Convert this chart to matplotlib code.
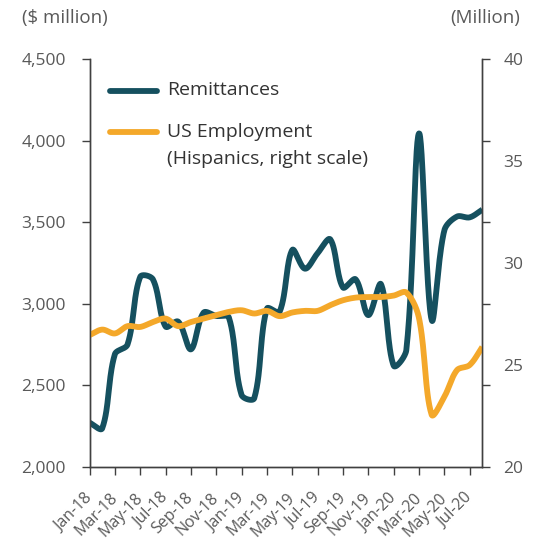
import numpy as np
import pandas as pd
import matplotlib
matplotlib.use('Agg')
import matplotlib.pyplot as plt
from matplotlib.transforms import ScaledTranslation

plt.rcParams['font.family'] = ['Open Sans', 'DejaVu Sans']

# monthly data, Jan-18 .. Aug-20
months = list(pd.date_range('2018-01-01', periods=32, freq='MS').strftime('%b-%y'))
remittances = [2270, 2235, 2690, 2750, 3165, 3150, 2860, 2890, 2720, 2945,
               2925, 2915, 2440, 2420, 2970, 2950, 3330, 3215, 3310, 3395,
               3100, 3150, 2930, 3120, 2620, 2715, 4045, 2900, 3450, 3535,
               3530, 3577]
us_employment = [26.46, 26.73, 26.54, 26.90, 26.86, 27.10, 27.27, 26.90, 27.10, 27.27,
                 27.44, 27.60, 27.68, 27.52, 27.65, 27.39, 27.57, 27.65, 27.65, 27.93,
                 28.17, 28.30, 28.33, 28.33, 28.40, 28.55, 27.30, 22.55, 23.43, 24.74,
                 24.99, 25.88]

teal = '#15505f'
orange = '#f4a82a'
grey_txt = '#595959'
axis_col = '#404040'


def smooth(vals, ys, xs=12.67, n=30):
    # smoothed line like the spreadsheet one: bezier through the points,
    # tangents weighted by chord length (in pixel units)
    P = np.column_stack([np.arange(len(vals)) * xs, np.asarray(vals, float) * ys])
    Q = np.vstack([P[:1], P, P[-1:]])
    t = np.linspace(0, 1, n, endpoint=False)[:, None]
    out = []
    for i in range(len(P) - 1):
        p0, p1, p2, p3 = Q[i], Q[i + 1], Q[i + 2], Q[i + 3]
        d01 = np.hypot(*(p1 - p0))
        d12 = np.hypot(*(p2 - p1))
        d23 = np.hypot(*(p3 - p2))
        f1 = d12 / (d01 + d12) if d01 + d12 > 0 else 0.5
        f2 = d12 / (d12 + d23) if d12 + d23 > 0 else 0.5
        c1 = p1 + (p2 - p0) * f1 / 3
        c2 = p2 - (p3 - p1) * f2 / 3
        out.append((1 - t)**3 * p1 + 3 * (1 - t)**2 * t * c1 + 3 * (1 - t) * t**2 * c2 + t**3 * p2)
    out.append(P[-1:])
    out = np.vstack(out)
    return out[:, 0] / xs, out[:, 1] / ys


fig = plt.figure(figsize=(5.37, 5.45), dpi=100)
ax = fig.add_axes([0.1667, 0.1437, 0.7315, 0.7475])
ax2 = ax.twinx()

x1, y1 = smooth(remittances, 407.4 / 2500)
ax.plot(x1, y1, color=teal, lw=4.2, solid_capstyle='butt')
x2, y2 = smooth(us_employment, 407.4 / 20)
ax2.plot(x2, y2, color=orange, lw=4.2, solid_capstyle='butt')

ax.set_xlim(0, len(months) - 1)
ax.set_ylim(2000, 4500)
ax2.set_ylim(20, 40)

ax.set_yticks(range(2000, 4501, 500))
ax.set_yticklabels([f'{v:,}' for v in range(2000, 4501, 500)])
ax.set_xticks(range(0, len(months) - 1, 2))
ax.set_xticklabels(months[0:len(months) - 1:2], rotation=45, ha='right',
                   va='center', rotation_mode='anchor')
shift = ScaledTranslation(6 / 100, 0, fig.dpi_scale_trans)
for lab in ax.get_xticklabels():
    lab.set_transform(lab.get_transform() + shift)

# right axis: labels every 5, tick marks aligned with left grid
ax2.yaxis.remove_overlapping_locs = False
ax2.set_yticks([20, 25, 30, 35, 40])
ax2.set_yticks([20, 24, 28, 32, 36, 40], minor=True)
ax2.tick_params(axis='y', which='major', length=0, pad=15, labelsize=12.5, labelcolor=grey_txt)
ax2.tick_params(axis='y', which='minor', length=6, width=1, color=axis_col)

ax.tick_params(axis='y', length=6, width=1, color=axis_col, labelsize=12.5,
               labelcolor=grey_txt, pad=11)
ax.tick_params(axis='x', length=6, width=1, color=axis_col, labelsize=11.5,
               labelcolor=grey_txt, pad=15)

for a in (ax, ax2):
    a.spines['top'].set_visible(False)
    for s in ('left', 'right', 'bottom'):
        a.spines[s].set_color(axis_col)
        a.spines[s].set_linewidth(1)

# legend drawn by hand so the orange key sits on the first text line
ax.plot([0.052, 0.171], [0.923, 0.923], transform=ax.transAxes, color=teal,
        lw=4.2, solid_capstyle='round', clip_on=False)
ax.plot([0.052, 0.171], [0.822, 0.822], transform=ax.transAxes, color=orange,
        lw=4.2, solid_capstyle='round', clip_on=False)
ax.text(0.197, 0.925, 'Remittances', transform=ax.transAxes, fontsize=14,
        color='#333333', va='center', fontweight='medium')
ax.text(0.197, 0.822, 'US Employment', transform=ax.transAxes, fontsize=14,
        color='#333333', va='center', fontweight='medium')
ax.text(0.197, 0.755, '(Hispanics, right scale)', transform=ax.transAxes,
        fontsize=14, color='#333333', va='center', fontweight='medium')

fig.text(22 / 537, 1 - 18 / 545, '($ million)', fontsize=13.5, color=grey_txt, va='center')
fig.text(520 / 537, 1 - 18 / 545, '(Million)', fontsize=13.5, color=grey_txt,
         va='center', ha='right')

fig.savefig('out.png', dpi=100)
